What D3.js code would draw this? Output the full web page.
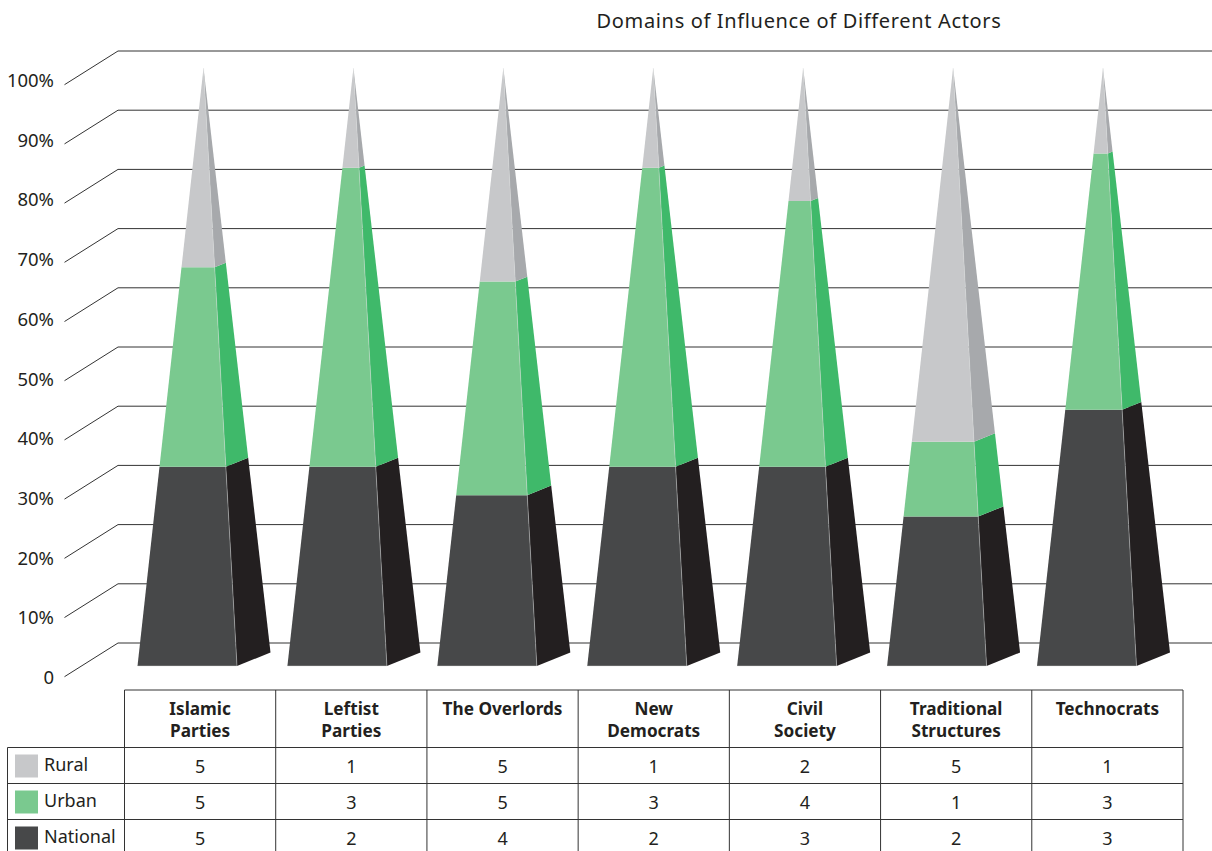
<!DOCTYPE html>
<html>
<head>
<meta charset="utf-8">
<script src="https://cdn.jsdelivr.net/npm/d3@7"></script>
<style>
  html, body { margin: 0; padding: 0; background: #fff; overflow: hidden; }
  svg { display: block; }
  text { font-family: "Noto Sans", "Open Sans", sans-serif; fill: #231f20; }
</style>
</head>
<body>
<div id="chart"></div>
<script>
const categories = ['Islamic Parties', 'Leftist Parties', 'The Overlords', 'New Democrats', 'Civil Society', 'Traditional Structures', 'Technocrats'];
const headerLines = [['Islamic', 'Parties'], ['Leftist', 'Parties'], ['The Overlords'], ['New', 'Democrats'], ['Civil', 'Society'], ['Traditional', 'Structures'], ['Technocrats']];
const seriesNames = ['Rural', 'Urban', 'National'];
const rural = [5, 1, 5, 1, 2, 5, 1];
const urban = [5, 3, 5, 3, 4, 1, 3];
const national = [5, 2, 4, 2, 3, 2, 3];
const ticks = [0, 10, 20, 30, 40, 50, 60, 70, 80, 90, 100];

const w = 1212, h = 851;
const frontColor = { Rural: '#c7c8ca', Urban: '#7ac98f', National: '#474849' };
const sideColor = { Rural: '#a7a9ac', Urban: '#3fb96a', National: '#231f20' };

const svg = d3.select('#chart').append('svg').attr('width', w).attr('height', h);

svg.append('text')
  .attr('x', 799).attr('y', 28)
  .attr('text-anchor', 'middle')
  .style('font-size', '20px')
  .style('letter-spacing', '0.65px')
  .text('Domains of Influence of Different Actors');

// back wall lines + slanted floor edge
const yBack = d3.scaleLinear().domain([0, 100]).range([643, 51]);
const yLabel = d3.scaleLinear().domain([0, 100]).range([684, 87]);
const gridRight = 1212, backX = 118, frontX = 64.5, slant = 33.7;

const tick = svg.append('g').selectAll('g').data(ticks).enter().append('g');
tick.append('path')
  .attr('fill', 'none')
  .attr('stroke', '#333')
  .attr('stroke-width', 1)
  .attr('d', d => `M${frontX},${yBack(d) + slant}L${backX},${yBack(d)}L${gridRight},${yBack(d)}`);
tick.append('text')
  .attr('x', 54)
  .attr('y', d => yLabel(d))
  .attr('text-anchor', 'end')
  .style('font-size', '18.5px')
  .text(d => d === 0 ? '0' : `${d}%`);

// pyramids
const xLeft = d3.scalePoint().domain(categories).range([137.5, 1037]);
const frontWidth = 99.5, apexDx = 66, apexY = 68, baseY = 666;
const sideDx = 33.5, sideDy = -13.5;

function lerp(a, b, t) { return a + (b - a) * t; }

const rows = categories.map((c, i) => {
  const values = [national[i], urban[i], rural[i]];
  const total = d3.sum(values);
  const names = ['National', 'Urban', 'Rural'];
  let acc = 0;
  return values.map((v, j) => {
    const seg = { cat: c, name: names[j], t0: acc / total, t1: (acc + v) / total };
    acc += v;
    return seg;
  });
});

const pyramid = svg.append('g').selectAll('g').data(rows).enter().append('g');

function facePath(d, a, b, ay, by) {
  const x0 = xLeft(d.cat);
  const ax = x0 + apexDx;
  const A = a(x0), B = b(x0);
  return [
    [lerp(A, ax, d.t0), lerp(ay, apexY, d.t0)],
    [lerp(B, ax, d.t0), lerp(by, apexY, d.t0)],
    [lerp(B, ax, d.t1), lerp(by, apexY, d.t1)],
    [lerp(A, ax, d.t1), lerp(ay, apexY, d.t1)]
  ];
}

pyramid.selectAll('.side').data(d => d).enter().append('path')
  .attr('class', 'side')
  .attr('fill', d => sideColor[d.name])
  .attr('d', d => d3.line()(facePath(d, x => x + frontWidth, x => x + frontWidth + sideDx, baseY, baseY + sideDy)) + 'Z');

pyramid.selectAll('.front').data(d => d).enter().append('path')
  .attr('class', 'front')
  .attr('fill', d => frontColor[d.name])
  .attr('d', d => d3.line()(facePath(d, x => x, x => x + frontWidth, baseY, baseY)) + 'Z');

// light seam along the front corner and the base, it shows in the reference
pyramid.append('path')
  .attr('fill', 'none')
  .attr('stroke', '#d9dadb')
  .attr('stroke-width', 0.6)
  .attr('stroke-opacity', 0.7)
  .attr('d', d => {
    const x0 = xLeft(d[0].cat);
    return `M${x0},${baseY}H${x0 + frontWidth}L${x0 + apexDx},${apexY}`;
  });

// table under the chart
const xCol = d3.scaleBand().domain(categories).range([124.5, 1183]);
const rowY = d3.scaleBand().domain(seriesNames).range([747.5, 855.5]);
const headTop = 690;
const tableColor = '#333';
const table = svg.append('g').attr('stroke', tableColor).attr('stroke-width', 1).attr('fill', 'none');

table.append('path').attr('d', `M124.5,${headTop}H1183`);
table.selectAll('.hrow').data(seriesNames).enter().append('path')
  .attr('class', 'hrow')
  .attr('d', d => `M7.5,${rowY(d)}H1183`);
table.selectAll('.vcol').data(categories).enter().append('path')
  .attr('class', 'vcol')
  .attr('d', d => `M${xCol(d)},${headTop}V${h}`);
table.append('path').attr('d', `M1183,${headTop}V${h}`);
table.append('path').attr('d', `M7.5,747.5V${h}`);

const header = svg.append('g').selectAll('text').data(categories).enter().append('text')
  .attr('text-anchor', 'middle')
  .style('font-size', '17.2px')
  .style('font-weight', 'bold');
header.selectAll('tspan').data((d, i) => headerLines[i].map(l => ({ l, d }))).enter().append('tspan')
  .attr('x', d => xCol(d.d) + xCol.bandwidth() / 2)
  .attr('y', (d, i) => 714.5 + i * 22)
  .text(d => d.l);

const swatch = svg.append('g').selectAll('g').data(seriesNames).enter().append('g');
swatch.append('rect')
  .attr('x', 15).attr('y', d => rowY(d) + 7)
  .attr('width', 23).attr('height', 23)
  .attr('fill', d => frontColor[d]);
swatch.append('text')
  .attr('x', 44).attr('y', d => rowY(d) + 23.5)
  .style('font-size', '18px')
  .text(d => d);

const valueRows = { Rural: rural, Urban: urban, National: national };
seriesNames.forEach(function(s) {
  svg.append('g').selectAll('text').data(valueRows[s]).enter().append('text')
    .attr('x', (d, i) => xCol(categories[i]) + xCol.bandwidth() / 2)
    .attr('y', rowY(s) + 25.5)
    .attr('text-anchor', 'middle')
    .style('font-size', '18px')
    .text(d => d);
});
</script>
</body>
</html>
